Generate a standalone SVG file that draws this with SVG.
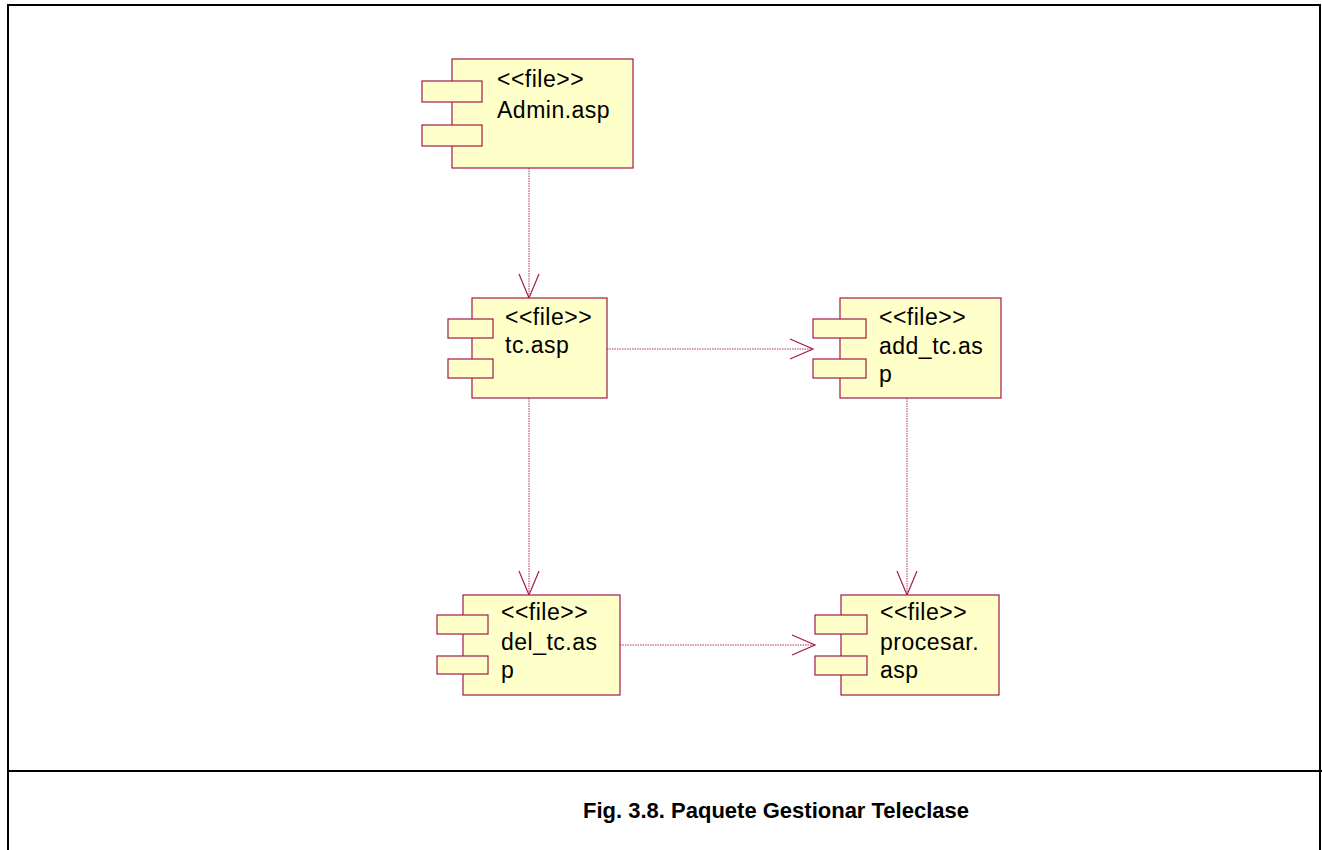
<svg xmlns="http://www.w3.org/2000/svg" width="1322" height="850" viewBox="0 0 1322 850">
<defs>
<style>
.box{fill:#ffffc9;stroke:#a3194b;stroke-width:1.2}
.lbl{font-family:"Liberation Sans",Arial,sans-serif;font-size:23px;fill:#000;letter-spacing:0.5px}
.conn{fill:none;stroke:#b0305f;stroke-width:1;stroke-dasharray:1.5,1}
.head{fill:none;stroke:#a3194b;stroke-width:1.2}
.frame{stroke:#000;stroke-width:2;fill:none}
.cap{font-family:"Liberation Sans",Arial,sans-serif;font-size:22px;font-weight:bold;fill:#000}
</style>
</defs>
<rect width="1322" height="850" fill="#fff"/>
<g id="frame">
<polyline class="frame" points="8,850 8,5 1320,5 1320,850"/>
<line class="frame" x1="8" y1="771" x2="1322" y2="771"/>
</g>
<g id="connectors">
<line class="conn" x1="529" y1="168" x2="529" y2="297"/>
<polyline class="head" points="519,274 529,298 539,274"/>
<line class="conn" x1="607" y1="349" x2="812" y2="349"/>
<polyline class="head" points="790,339 813,349 790,359"/>
<line class="conn" x1="529" y1="398" x2="529" y2="594"/>
<polyline class="head" points="519,571 529,595 539,571"/>
<line class="conn" x1="907" y1="398" x2="907" y2="594"/>
<polyline class="head" points="897,571 907,595 917,571"/>
<line class="conn" x1="620" y1="645" x2="814" y2="645"/>
<polyline class="head" points="792,635 815,645 792,655"/>
</g>
<g id="admin">
<rect class="box" x="452" y="59" width="181" height="109"/>
<rect class="box" x="422" y="81" width="60" height="21"/>
<rect class="box" x="422" y="125" width="60" height="21"/>
<text class="lbl" x="497" y="87">&lt;&lt;file&gt;&gt;</text>
<text class="lbl" x="497" y="118">Admin.asp</text>
</g>
<g id="tc">
<rect class="box" x="472" y="298" width="135" height="100"/>
<rect class="box" x="448" y="319" width="45" height="19"/>
<rect class="box" x="448" y="359" width="45" height="19"/>
<text class="lbl" x="505" y="325">&lt;&lt;file&gt;&gt;</text>
<text class="lbl" x="505" y="353">tc.asp</text>
</g>
<g id="add_tc">
<rect class="box" x="840" y="298" width="161" height="100"/>
<rect class="box" x="813" y="319" width="53" height="19"/>
<rect class="box" x="813" y="359" width="53" height="19"/>
<text class="lbl" x="879" y="325">&lt;&lt;file&gt;&gt;</text>
<text class="lbl" x="879" y="354">add_tc.as</text>
<text class="lbl" x="879" y="382">p</text>
</g>
<g id="del_tc">
<rect class="box" x="463" y="595" width="157" height="100"/>
<rect class="box" x="437" y="615" width="51" height="19"/>
<rect class="box" x="437" y="656" width="51" height="18"/>
<text class="lbl" x="501" y="620">&lt;&lt;file&gt;&gt;</text>
<text class="lbl" x="501" y="650">del_tc.as</text>
<text class="lbl" x="501" y="678">p</text>
</g>
<g id="procesar">
<rect class="box" x="841" y="595" width="158" height="100"/>
<rect class="box" x="815" y="615" width="52" height="19"/>
<rect class="box" x="815" y="656" width="52" height="19"/>
<text class="lbl" x="880" y="620">&lt;&lt;file&gt;&gt;</text>
<text class="lbl" x="880" y="650">procesar.</text>
<text class="lbl" x="880" y="678">asp</text>
</g>
<g id="caption">
<text class="cap" x="776" y="818" text-anchor="middle">Fig. 3.8. Paquete Gestionar Teleclase</text>
</g>
</svg>
